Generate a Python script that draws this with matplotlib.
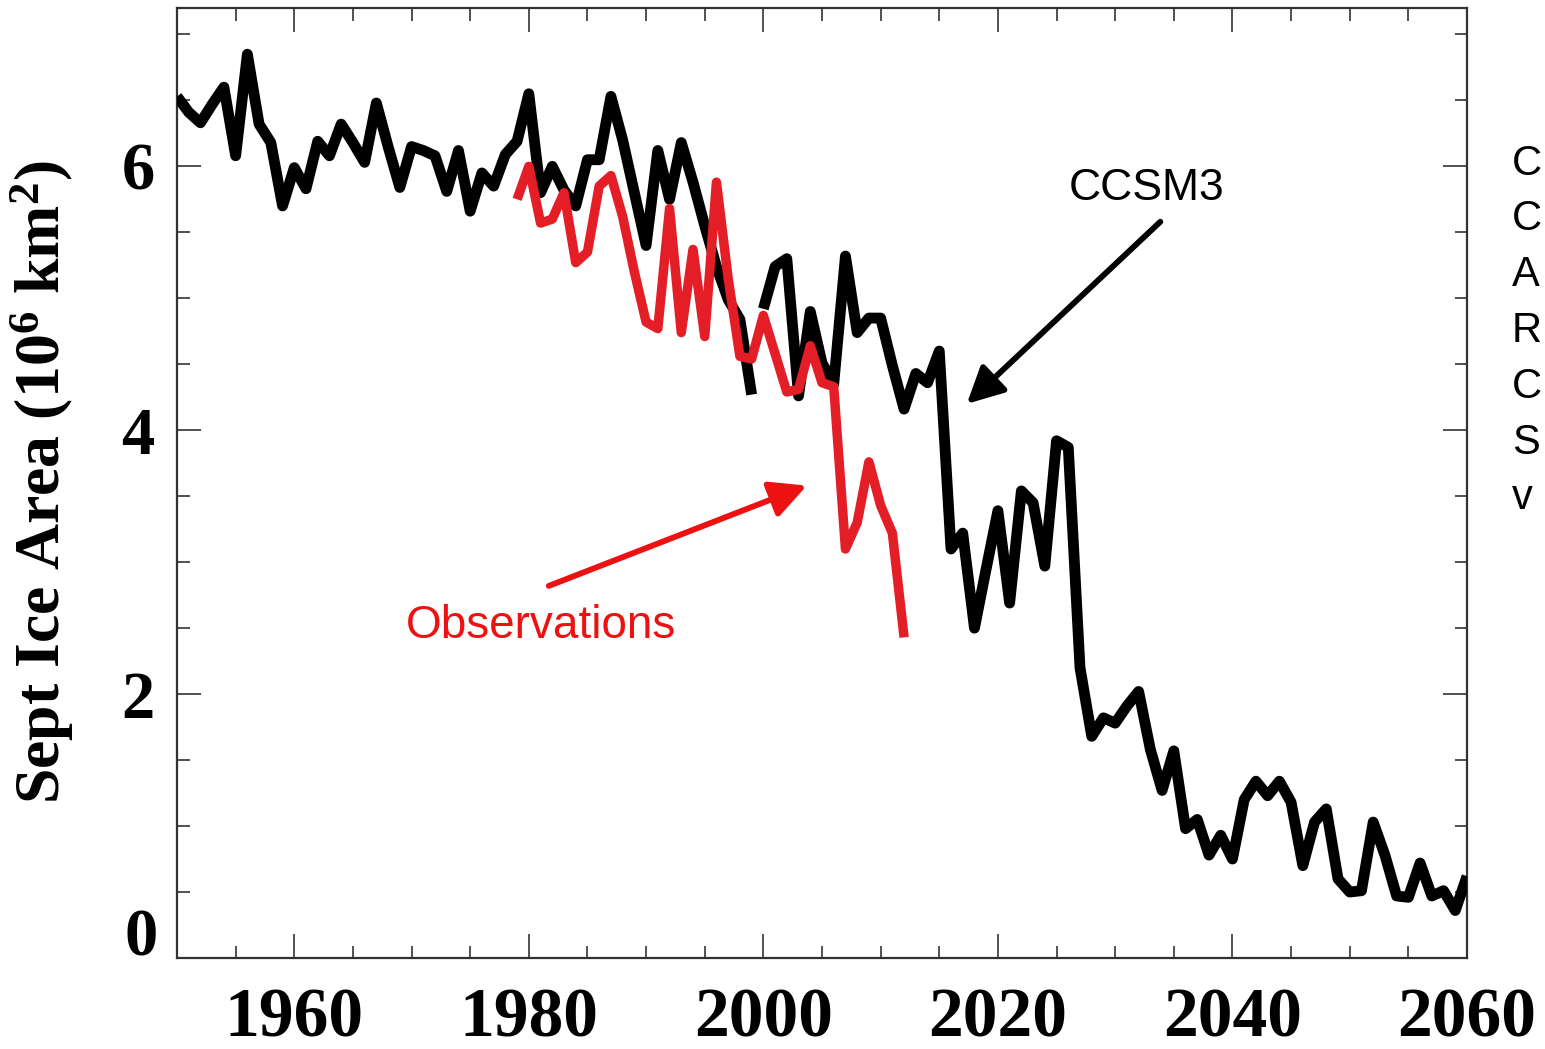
import numpy as np
import matplotlib
matplotlib.use("Agg")
import matplotlib.pyplot as plt
from matplotlib.ticker import MultipleLocator, FixedLocator
from matplotlib.transforms import ScaledTranslation

plt.rcParams["mathtext.fontset"] = "custom"
plt.rcParams["mathtext.rm"] = "Liberation Serif:bold"
plt.rcParams["mathtext.it"] = "Liberation Serif:italic:bold"
plt.rcParams["mathtext.bf"] = "Liberation Serif:bold"

# ---------------- data ----------------
ccsm3_hist_years = list(range(1950, 2000))
ccsm3_hist = [6.53, 6.41, 6.33, 6.47, 6.60, 6.08, 6.85, 6.32, 6.18, 5.70,
              5.99, 5.83, 6.19, 6.08, 6.32, 6.18, 6.03, 6.48, 6.15, 5.84,
              6.15, 6.12, 6.08, 5.81, 6.12, 5.66, 5.95, 5.85, 6.09, 6.19,
              6.55, 5.80, 6.00, 5.82, 5.70, 6.05, 6.05, 6.53, 6.20, 5.80,
              5.40, 6.12, 5.75, 6.18, 5.88, 5.55, 5.24, 4.99, 4.84, 4.27]

ccsm3_proj_years = list(range(2000, 2061))
ccsm3_proj = [4.92, 5.24, 5.30, 4.26, 4.90, 4.51, 4.35, 5.32, 4.74, 4.85,
              4.85, 4.49, 4.16, 4.43, 4.36, 4.60, 3.10, 3.22, 2.50, 2.95,
              3.39, 2.69, 3.54, 3.45, 2.97, 3.92, 3.87, 2.20, 1.68, 1.82,
              1.78, 1.91, 2.02, 1.58, 1.27, 1.57, 0.98, 1.05, 0.78, 0.93,
              0.75, 1.20, 1.34, 1.23, 1.34, 1.18, 0.70, 1.03, 1.13, 0.60,
              0.50, 0.51, 1.03, 0.78, 0.47, 0.46, 0.72, 0.47, 0.51, 0.36,
              0.62]

obs_years = list(range(1979, 2013))
obs = [5.75, 6.00, 5.57, 5.60, 5.80, 5.27, 5.35, 5.85, 5.93, 5.62,
       5.20, 4.82, 4.77, 5.68, 4.74, 5.37, 4.71, 5.88, 5.15, 4.56,
       4.54, 4.87, 4.58, 4.29, 4.31, 4.64, 4.36, 4.33, 3.10, 3.30,
       3.76, 3.43, 3.22, 2.43]

xtick_values = [1960, 1980, 2000, 2020, 2040, 2060]
ytick_values = [0, 2, 4, 6]
ylabel_text = "Sept Ice Area (10$^{6}$ km$^{2}$)"
side_letters = ["C", "C", "A", "R", "C", "S", "v"]

# ---------------- figure ----------------
W, H = 1545, 1049
fig = plt.figure(figsize=(W / 100, H / 100), dpi=100)
ax = fig.add_axes([177 / W, 1 - 958 / H, (1467 - 177) / W, (958 - 8) / H])

black = "#000000"
red = "#e41e26"

ax.plot(ccsm3_hist_years, ccsm3_hist, color=black, lw=7.8, solid_joinstyle="round",
        solid_capstyle="butt", zorder=3)
ax.plot(ccsm3_proj_years, ccsm3_proj, color=black, lw=7.8, solid_joinstyle="round",
        solid_capstyle="butt", zorder=3)
ax.plot(obs_years, obs, color=red, lw=6.8, solid_joinstyle="round",
        solid_capstyle="butt", zorder=4)

ax.set_xlim(1950, 2060)
ax.set_ylim(0, 7.2)

serif = ["Liberation Serif", "DejaVu Serif"]
sans = ["Liberation Sans", "DejaVu Sans"]

ax.xaxis.set_major_locator(FixedLocator(xtick_values))
ax.xaxis.set_minor_locator(MultipleLocator(5))
ax.yaxis.set_major_locator(FixedLocator(ytick_values))
ax.yaxis.set_minor_locator(MultipleLocator(0.5))
ax.set_xticklabels([str(v) for v in xtick_values])
ax.set_yticklabels(["" if v == 0 else str(v) for v in ytick_values])

ax.tick_params(which="both", direction="in", top=True, right=True, color="#333333", width=1.2)
ax.tick_params(which="major", length=17)
ax.tick_params(which="minor", length=9)
ax.tick_params(axis="x", which="major", pad=21.5)
ax.tick_params(axis="y", which="major", pad=16)
for lab in ax.get_xticklabels():
    lab.set_fontfamily(serif)
    lab.set_fontweight("bold")
    lab.set_fontsize(50)
for lab in ax.get_yticklabels():
    lab.set_fontfamily(serif)
    lab.set_fontweight("bold")
    lab.set_fontsize(48)

# "0" label raised above the bottom spine
ax.text(-0.015, 0.0, "0", transform=ax.get_yaxis_transform()
        + ScaledTranslation(0, 3 / 100, fig.dpi_scale_trans),
        ha="right", va="baseline", fontsize=48, fontweight="bold", family=serif)

for s in ax.spines.values():
    s.set_linewidth(1.6)
    s.set_color("#333333")

fig.text(42 / W, 1 - 482 / H, ylabel_text, rotation=90, ha="center", va="center",
         fontsize=46, fontweight="bold", family=serif)

# annotations
ax.annotate("", xy=(2017.35, 4.20), xytext=(2033.85, 5.58),
            arrowprops=dict(arrowstyle="-|>,head_length=0.55,head_width=0.28", lw=4.2,
                            color=black, mutation_scale=40, shrinkA=0, shrinkB=0), zorder=5)
ax.text(2032.7, 5.83, "CCSM3", ha="center", va="center", fontsize=32, family=sans, color=black)

ax.annotate("", xy=(2003.7, 3.58), xytext=(1981.7, 2.82),
            arrowprops=dict(arrowstyle="-|>,head_length=0.55,head_width=0.28", lw=4.2,
                            color="#ee1111", mutation_scale=40, shrinkA=0, shrinkB=0), zorder=5)
ax.text(1981.0, 2.52, "Observations", ha="center", va="center", fontsize=33, family=sans,
        color="#ee1111")

fig.text(1512 / W, 1 - 331 / H, "\n".join(side_letters), ha="left", va="center",
         fontsize=30, family=sans, linespacing=1.51)

fig.savefig("out.png", dpi=100)
